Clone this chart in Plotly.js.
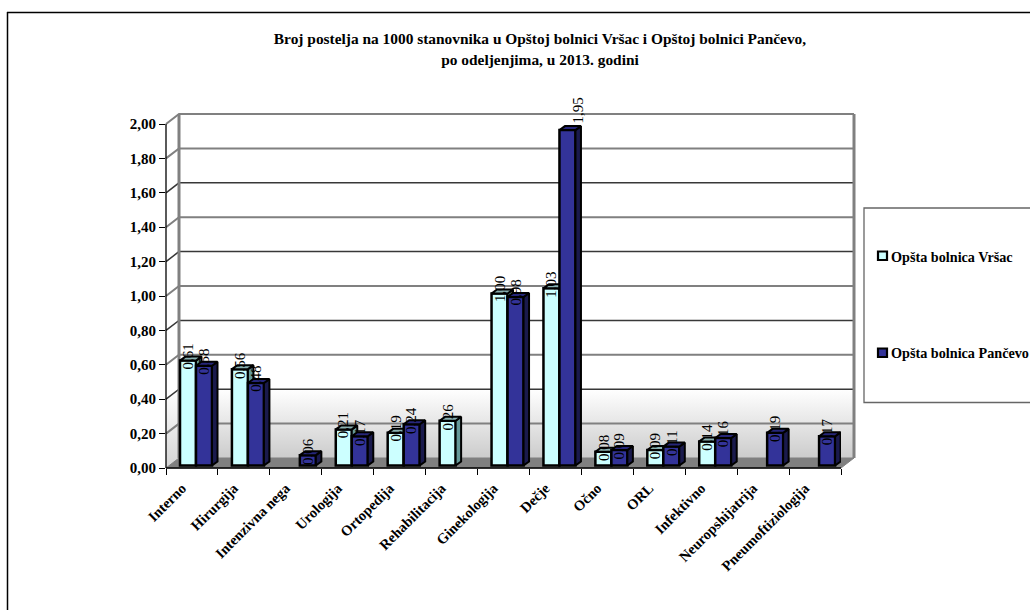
<!DOCTYPE html>
<html><head><meta charset="utf-8">
<script src="https://cdn.plot.ly/plotly-3.0.1.min.js"></script>
<style>html,body{margin:0;padding:0;background:#fff}#c{width:1030px;height:610px}</style>
</head><body><div id="c"></div>
<script>
const categories = ["Interno","Hirurgija","Intenzivna nega","Urologija","Ortopedija","Rehabilitacija","Ginekologija","Dečje","Očno","ORL","Infektivno","Neuropshijatrija","Pneumoftiziologija"];
const vrsac = [0.61,0.56,null,0.21,0.19,0.26,1.00,1.03,0.08,0.09,0.14,null,null];
const pancevo = [0.58,0.48,0.06,0.17,0.24,null,0.98,1.95,0.09,0.11,0.16,0.19,0.17];
const yTicks = [0,0.2,0.4,0.6,0.8,1.0,1.2,1.4,1.6,1.8,2.0];
const nameA = "Opšta bolnica Vršac", nameB = "Opšta bolnica Pančevo";
const titleLines = ["Broj postelja na 1000 stanovnika u Opštoj bolnici Vršac i Opštoj bolnici Pančevo,","po odeljenjima, u 2013. godini"];

const W=1030,H=610, L=166,R=841,T=124,B=468;
const n=categories.length;
const pxX=(R-L)/n, pxY=(B-T)/2;
const wallDx=13/pxX, wallDy=10/pxY;     // depth of the chart box
const barDx=5.5/pxX, barDy=4/pxY;       // depth of a bar
const barW=16/pxX, barStart=14/pxX, barBase=2.5/pxY;
const serif='"Liberation Serif","Times New Roman",serif';
const font={family:serif,size:14.5,color:'#000'};
const centers=categories.map((_,i)=>i+0.5);
const darkLevels=new Set([0.4,0.8,1.2,1.6]);
const padPx=4, padX=padPx/pxX, padY=padPx/pxY;

function wallLines(levels){const x=[],y=[];levels.forEach(v=>{x.push(0,wallDx,n+wallDx,null);y.push(v,v+wallDy,v+wallDy,null);});return {x,y};}
const traces=[];
const wallBase={type:'scatter',hoverinfo:'skip',showlegend:false,xaxis:'x',yaxis:'y'};
traces.push({...wallBase,x:[wallDx,n+wallDx,n+wallDx,wallDx,wallDx],y:[wallDy,wallDy,0.4+wallDy,0.4+wallDy,wallDy],mode:'none',fill:'toself',
  fillgradient:{type:'vertical',colorscale:[[0,'#cccccc'],[1,'#ffffff']]}});
traces.push({...wallBase,x:[0,wallDx,wallDx,0,0],y:[0,wallDy,0.4+wallDy,0.4,0],mode:'none',fill:'toself',
  fillgradient:{type:'vertical',colorscale:[[0,'#d4d4d4'],[1,'#ffffff']]}});
traces.push({...wallBase,x:[0,wallDx,n+wallDx,n,0],y:[0,wallDy,wallDy,0,0],mode:'lines',line:{color:'#808080',width:1},fill:'toself',fillcolor:'#808080'});
const greyL=wallLines(yTicks.filter(v=>v>0&&!darkLevels.has(v)));
const darkL=wallLines(yTicks.filter(v=>darkLevels.has(v)));
traces.push({...wallBase,x:greyL.x,y:greyL.y,mode:'lines',line:{color:'#808080',width:2}});
traces.push({...wallBase,x:darkL.x,y:darkL.y,mode:'lines',line:{color:'#383838',width:1.5}});
traces.push({...wallBase,x:[wallDx,wallDx,null,n+wallDx,n+wallDx],y:[wallDy,2+wallDy,null,wallDy,2+wallDy],mode:'lines',line:{color:'#808080',width:3}});
// axis lines, on the wall's scale so they can stop at the front of the box
traces.push({...wallBase,x:[0,0,null,0,n],y:[0,2,null,0,0],mode:'lines',line:{color:'#000',width:1.3}});

function series(values,name,xa,ya,col,sideCol,topCol,start){
  const sx=[],sy=[],tx=[],ty=[];
  values.forEach((v,i)=>{
    if(v==null)return;
    const xl=i+start, xr=xl+barW, b=barBase, t=v+barBase;
    sx.push(xr,xr+barDx,xr+barDx,xr,xr,null); sy.push(b,b+barDy,t+barDy,t,b,null);
    tx.push(xl,xl+barDx,xr+barDx,xr,xl,null); ty.push(t,t+barDy,t+barDy,t,t,null);
  });
  traces.push({type:'bar',name,x:centers,y:values,base:barBase,width:barW,offset:start-0.5,
    marker:{color:col,line:{color:'#000',width:2.5}},xaxis:xa,yaxis:ya,showlegend:false,cliponaxis:false});
  traces.push({type:'scatter',x:sx,y:sy,mode:'lines',line:{color:'#000',width:2},fill:'toself',fillcolor:sideCol,hoverinfo:'skip',showlegend:false,xaxis:xa,yaxis:ya});
  traces.push({type:'scatter',x:tx,y:ty,mode:'lines',line:{color:'#000',width:2},fill:'toself',fillcolor:topCol,hoverinfo:'skip',showlegend:false,xaxis:xa,yaxis:ya});
}
series(vrsac,nameA,'x2','y2','#CCFFFF','#669999','#8AB0B0',barStart);
series(pancevo,nameB,'x3','y3','#333399','#1A1A4D','#26267A',barStart+barW);

const fmt=v=>v.toFixed(2).replace('.',',');
const annotations=[];
function addLabels(values,start,xr,yr){
  values.forEach((v,i)=>{ if(v==null)return;
    const tall=v>1.5;
    annotations.push({x:i+start+barW/2,y:v+barBase,xref:xr,yref:yr,text:fmt(v),showarrow:false,textangle:-90,
      font:{family:serif,size:15,color:'#000'},xanchor:'center',yanchor:'middle',xshift:tall?11:0,yshift:tall?20:4});
  });
}
addLabels(vrsac,barStart,'x2','y2');
addLabels(pancevo,barStart+barW,'x3','y3');
const px=v=>v/W, py=v=>1-v/H;
function legendItem(label,yc){
  annotations.push({x:px(891),y:py(yc),xref:'paper',yref:'paper',text:'<b>'+label+'</b>',showarrow:false,xanchor:'left',yanchor:'middle',xshift:-2,font:{family:serif,size:14.2,color:'#000'}});
}
legendItem(nameA,257);
legendItem(nameB,353);

const shapes=[
  {type:'line',xref:'paper',yref:'paper',x0:px(7.5),x1:px(7.5),y0:py(12),y1:py(610),line:{color:'#000',width:1.5}},
  {type:'line',xref:'paper',yref:'paper',x0:px(7),x1:px(1030),y0:py(12.5),y1:py(12.5),line:{color:'#000',width:1.5}},
  {type:'rect',xref:'paper',yref:'paper',x0:px(864),x1:px(1032),y0:py(208),y1:py(402.5),line:{color:'#666',width:1.3},fillcolor:'#fff'},
  {type:'rect',xref:'paper',yref:'paper',x0:px(878),x1:px(887),y0:py(251.5),y1:py(260),line:{color:'#000',width:2.2},fillcolor:'#CCFFFF'},
  {type:'rect',xref:'paper',yref:'paper',x0:px(878),x1:px(887),y0:py(348.5),y1:py(357),line:{color:'#000',width:2.2},fillcolor:'#333399'}
];

const dom={x:[L/W,R/W],y:[(H-B)/H,(H-T)/H]};
const wallDom={x:[(L-padPx)/W,(R+13+padPx)/W],y:[(H-B-padPx)/H,(H-T+10+padPx)/H]};
const hiddenX=a=>({domain:dom.x,range:[0,n],visible:false,anchor:a});
const hiddenY=a=>({domain:dom.y,range:[0,2],visible:false,anchor:a});
const labelShift=10/pxX;
const layout={
  width:W,height:H,margin:{l:0,r:0,t:0,b:0},paper_bgcolor:'#fff',plot_bgcolor:'rgba(0,0,0,0)',showlegend:false,
  font,separators:',.',barmode:'overlay',
  title:{text:titleLines.map(s=>'<span style="font-size:15.4px">'+s+'</span>').join('<br>'),font:{family:serif,size:16.4,weight:700,color:'#000'},x:540/W,xanchor:'center',xref:'paper',y:1-44/H,yanchor:'top',yref:'container'},
  xaxis:{domain:wallDom.x,range:[-padX,n+wallDx+padX],visible:false,anchor:'y'},
  yaxis:{domain:wallDom.y,range:[-padY,2+wallDy+padY],visible:false,anchor:'x'},
  xaxis2:{domain:dom.x,range:[0,n],anchor:'y2',tickmode:'array',tickvals:centers.map(c=>c-labelShift),ticktext:categories.map(c=>'<b>'+c+'</b>'),tickangle:-45,ticks:'',ticklabelstandoff:8,showgrid:false,zeroline:false,showline:false,
    minor:{tickmode:'array',tickvals:categories.map((_,i)=>i).concat([n]),ticks:'outside',ticklen:6,tickcolor:'#000',tickwidth:1,showgrid:false},
    tickfont:{family:serif,size:14.5,color:'#000'},automargin:false},
  yaxis2:{domain:dom.y,range:[0,2],anchor:'x2',tickmode:'array',tickvals:yTicks,ticktext:yTicks.map(v=>'<b>'+fmt(v)+'</b>'),ticks:'outside',ticklen:6,tickcolor:'#000',tickwidth:1,showgrid:false,zeroline:false,showline:false,
    tickfont:{family:serif,size:15,color:'#000'},automargin:false},
  xaxis3:hiddenX('y3'),yaxis3:hiddenY('x3'),
  annotations,shapes
};
Plotly.newPlot('c',traces,layout,{displayModeBar:false,staticPlot:true});
</script></body></html>
